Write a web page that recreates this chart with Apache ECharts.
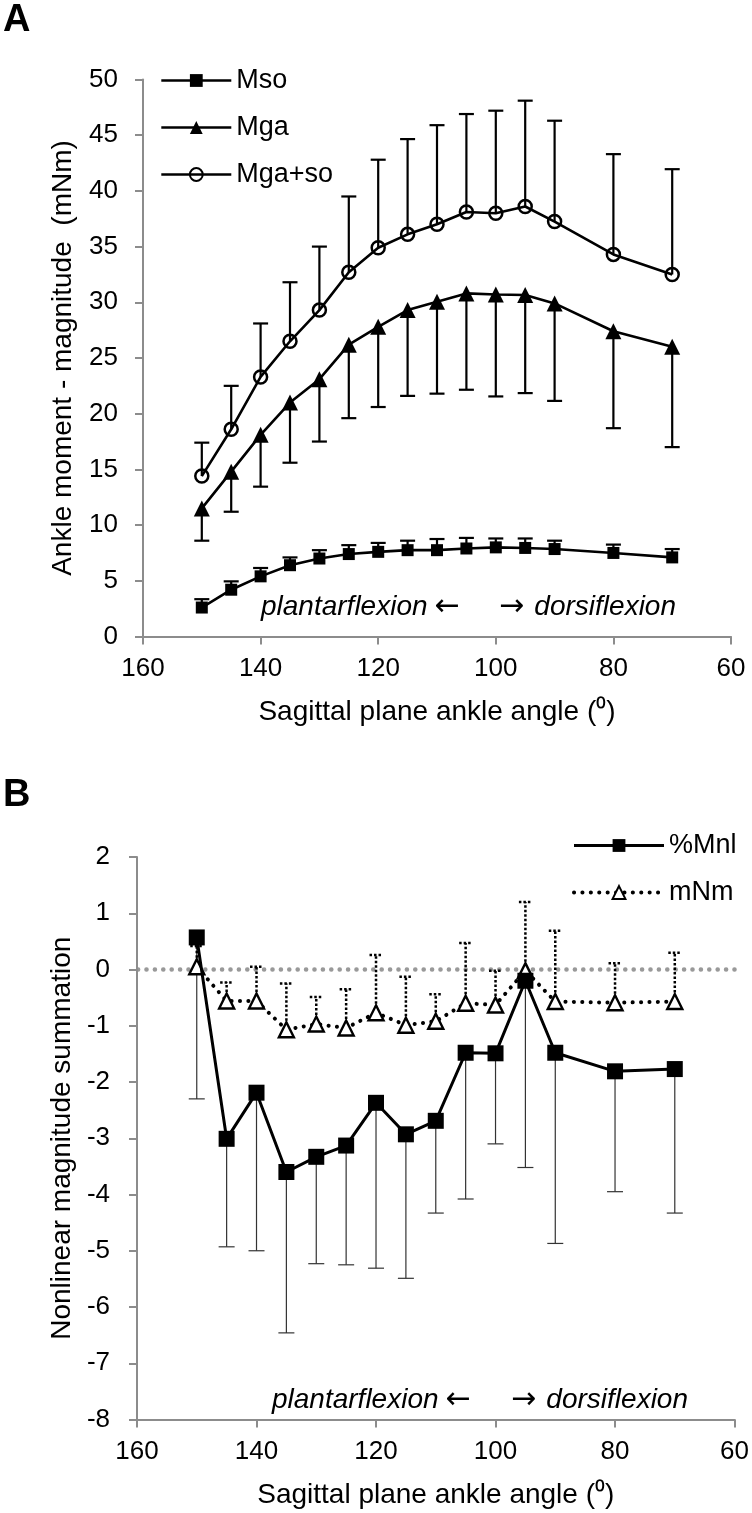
<!DOCTYPE html>
<html><head><meta charset="utf-8">
<script src="https://cdn.jsdelivr.net/npm/echarts@6/dist/echarts.min.js"></script>
<style>html,body{margin:0;padding:0;background:#fff}#c{width:752px;height:1513px}</style>
</head><body><div id="c"></div>
<script>
// ---- data ----
var angles = [150,145,140,135,130,125,120,115,110,105,100,95,90,80,70];
var xTicks = [160,140,120,100,80,60];
var yTicksA = [0,5,10,15,20,25,30,35,40,45,50];
var yTicksB = [-8,-7,-6,-5,-4,-3,-2,-1,0,1,2];

var mso      = [2.6,4.2,5.4,6.4,7.0,7.4,7.6,7.75,7.75,7.9,8.0,7.95,7.85,7.5,7.1];
var msoHi    = [3.35,4.95,6.15,7.1,7.75,8.2,8.4,8.6,8.75,8.85,8.8,8.8,8.6,8.25,7.85];
var mga      = [11.5,14.8,18.1,21.0,23.1,26.2,27.8,29.3,30.05,30.8,30.7,30.65,29.9,27.4,26.0];
var mgaLo    = [8.6,11.2,13.45,15.6,17.5,19.6,20.6,21.6,21.8,22.15,21.55,21.85,21.15,18.7,17.0];
var mgaso    = [14.4,18.6,23.3,26.5,29.3,32.7,34.9,36.1,37.0,38.1,38.0,38.6,37.25,34.3,32.5];
var mgasoHi  = [17.4,22.5,28.1,31.8,35.0,39.5,42.8,44.65,45.9,46.9,47.2,48.1,46.3,43.3,41.95];

var pctMnl   = [0.57,-3.01,-2.19,-3.6,-3.33,-3.13,-2.37,-2.93,-2.69,-1.48,-1.49,-0.2,-1.48,-1.81,-1.77];
var pctMnlLo = [-2.30,-4.93,-5.0,-6.46,-5.23,-5.25,-5.31,-5.49,-4.33,-4.08,-3.10,-3.52,-4.87,-3.95,-4.33];
var mnm      = [0.05,-0.56,-0.56,-1.07,-0.97,-1.04,-0.77,-0.99,-0.92,-0.60,-0.63,-0.02,-0.57,-0.59,-0.57];
var mnmHi    = [0.42,-0.23,0.05,-0.25,-0.49,-0.35,0.26,-0.13,-0.44,0.47,-0.02,1.2,0.69,0.11,0.30];

var annotLeft = 'plantarflexion';
var annotRight = 'dorsiflexion';

// ---- helpers ----
function pts(ys){ return angles.map(function(a,i){ return [a, ys[i]]; }); }
function errPts(ys, ends){ return angles.map(function(a,i){ return [a, ys[i], ends[i]]; }); }
function errRender(cap, style){
  return function(params, api){
    var x = api.value(0), y0 = api.value(1), y1 = api.value(2);
    var p0 = api.coord([x, y0]), p1 = api.coord([x, y1]);
    return {type:'group', children:[
      {type:'line', shape:{x1:p0[0], y1:p0[1], x2:p1[0], y2:p1[1]}, style: style},
      {type:'line', shape:{x1:p1[0]-cap/2, y1:p1[1], x2:p1[0]+cap/2, y2:p1[1]}, style: style}
    ]};
  };
}
var FONT = 'Liberation Sans, Arial, sans-serif';
var FS = 26;     // tick labels
var FT = 28;     // axis titles
var FL = 27;     // legend
var axisGray = '#8c8c8c';

function xAxis(gi){
  return {
    type:'value', gridIndex:gi, min:60, max:160, interval:20, inverse:true,
    axisLine:{show:true, onZero:false, lineStyle:{color:axisGray, width:2}},
    axisTick:{show:true, length:8, lineStyle:{color:axisGray, width:2}},
    axisLabel:{color:'#000', fontSize:FS, fontFamily:FONT, margin:19},
    splitLine:{show:false},
    name:'Sagittal plane ankle angle (\u2070)', nameLocation:'middle', nameGap:62,
    nameTextStyle:{color:'#000', fontSize:FT, fontFamily:FONT}
  };
}
function yAxis(gi, min, max, interval, name, gap, margin){
  return {
    type:'value', gridIndex:gi, min:min, max:max, interval:interval,
    axisLine:{show:true, lineStyle:{color:axisGray, width:2}},
    axisTick:{show:true, length:8, lineStyle:{color:axisGray, width:2}},
    axisLabel:{color:'#000', fontSize:FS, fontFamily:FONT, margin:margin},
    splitLine:{show:false},
    name:name, nameLocation:'middle', nameGap:gap, nameRotate:90,
    nameTextStyle:{color:'#000', fontSize:FT, fontFamily:FONT}
  };
}
function annot(xl, xr, y){
  var it = 'italic '+FT+'px '+FONT, ar = '30px DejaVu Sans';
  return [
    {type:'text', x:xl, y:y, style:{text:annotLeft, font:it, fill:'#000', textVerticalAlign:'middle'}},
    {type:'text', x:xl+199, y:y, style:{text:'\u2190', font:ar, fill:'#000', textAlign:'right', textVerticalAlign:'middle'}},
    {type:'text', x:xr-177, y:y, style:{text:'\u2192', font:ar, fill:'#000', textAlign:'left', textVerticalAlign:'middle'}},
    {type:'text', x:xr, y:y, style:{text:annotRight, font:it, fill:'#000', textAlign:'right', textVerticalAlign:'middle'}}
  ];
}

var chart = echarts.init(document.getElementById('c'), null, {renderer:'canvas'});
var blackErr = {stroke:'#000', lineWidth:2.2};
var thinErr = {stroke:'#333', lineWidth:1.2};
var dotErr = {stroke:'#000', lineWidth:2.5, lineDash:[2.5,2]};

chart.setOption({
  animation:false,
  backgroundColor:'#fff',
  grid:[
    {left:143, top:79.5, width:588, height:557},
    {left:137, top:857, width:598, height:562.5}
  ],
  xAxis:[xAxis(0), xAxis(1)],
  yAxis:[
    yAxis(0, 0, 50, 5, 'Ankle moment - magnitude  (mNm)', 66, 25),
    yAxis(1, -8, 2, 1, 'Nonlinear magnitude summation', 60, 27)
  ],
  legend:[
    {left:155, top:62, orient:'vertical', itemGap:20, itemWidth:70, itemHeight:16,
     lineStyle:{width:2.6},
     textStyle:{fontSize:FL, fontFamily:FONT, color:'#000'},
     data:['Mso','Mga','Mga+so']},
    {left:567, top:827, orient:'vertical', itemGap:20, itemWidth:90, itemHeight:16,
     textStyle:{fontSize:FL, fontFamily:FONT, color:'#000'},
     data:[
       {name:'%Mnl', lineStyle:{width:3}},
       {name:'mNm', lineStyle:{width:4, type:[0.1, 8.3], cap:'round'}}
     ]}
  ],
  graphic:[
    {type:'text', left:3, top:2, style:{text:'A', font:'bold 38px '+FONT, fill:'#000'}},
    {type:'text', left:3, top:777, style:{text:'B', font:'bold 38px '+FONT, fill:'#000'}}
  ].concat(annot(261, 676, 607), annot(272, 688, 1400)),
  series:[
    // Panel A error bars
    {type:'custom', xAxisIndex:0, yAxisIndex:0, renderItem:errRender(15, blackErr), data:errPts(mso, msoHi), z:1, silent:true},
    {type:'custom', xAxisIndex:0, yAxisIndex:0, renderItem:errRender(15, blackErr), data:errPts(mga, mgaLo), z:1, silent:true},
    {type:'custom', xAxisIndex:0, yAxisIndex:0, renderItem:errRender(15, blackErr), data:errPts(mgaso, mgasoHi), z:1, silent:true},
    // Panel A lines
    {name:'Mso', type:'line', xAxisIndex:0, yAxisIndex:0, data:pts(mso), symbol:'rect', symbolSize:12,
     lineStyle:{color:'#000', width:2.6}, itemStyle:{color:'#000'}, z:3},
    {name:'Mga', type:'line', xAxisIndex:0, yAxisIndex:0, data:pts(mga), symbol:'triangle', symbolSize:16,
     lineStyle:{color:'#000', width:2.6}, itemStyle:{color:'#000'}, z:3},
    {name:'Mga+so', type:'line', xAxisIndex:0, yAxisIndex:0, data:pts(mgaso), symbol:'circle', symbolSize:13,
     lineStyle:{color:'#000', width:2.6}, itemStyle:{color:'rgba(255,255,255,0)', borderColor:'#000', borderWidth:2.5}, z:3},
    // Panel B error bars
    {type:'custom', xAxisIndex:1, yAxisIndex:1, renderItem:errRender(16, thinErr), data:errPts(pctMnl, pctMnlLo), z:1, silent:true},
    {type:'custom', xAxisIndex:1, yAxisIndex:1, renderItem:errRender(13, dotErr), data:errPts(mnm, mnmHi), z:1, silent:true},
    // Panel B lines
    {name:'mNm', type:'line', xAxisIndex:1, yAxisIndex:1, data:pts(mnm), symbol:'triangle', symbolSize:15,
     lineStyle:{color:'#000', width:4, type:[0.1, 8.3], cap:'round'},
     itemStyle:{color:'#fff', borderColor:'#000', borderWidth:2.4}, z:3,
     markLine:{silent:true, symbol:'none', label:{show:false},
       lineStyle:{color:'#999', width:4.5, type:[0.1, 8.3], cap:'round'},
       data:[{yAxis:0}], z:0}},
    {name:'%Mnl', type:'line', xAxisIndex:1, yAxisIndex:1, data:pts(pctMnl), symbol:'rect', symbolSize:16,
     lineStyle:{color:'#000', width:3}, itemStyle:{color:'#000'}, z:4}
  ]
});
</script></body></html>
